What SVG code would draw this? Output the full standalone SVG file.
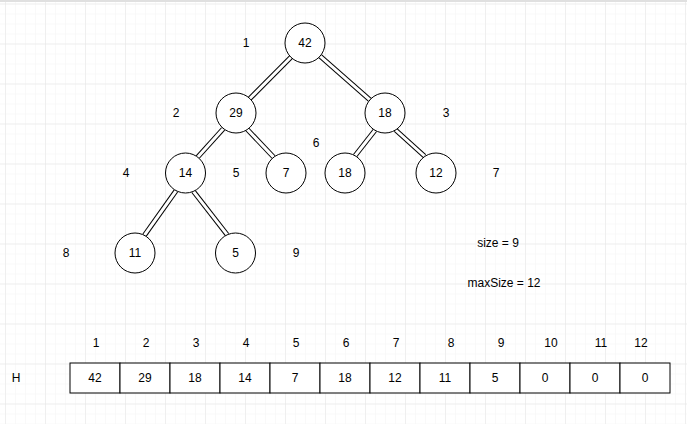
<svg xmlns="http://www.w3.org/2000/svg" width="687" height="424" viewBox="0 0 687 424">
<defs>
<pattern id="minor" width="10" height="10" patternUnits="userSpaceOnUse" x="5" y="3.5">
<path d="M0 0H10M0 0V10" fill="none" stroke="#f3f3f3" stroke-width="1"/>
</pattern>
<pattern id="major" width="40" height="40" patternUnits="userSpaceOnUse" x="5" y="3.5">
<path d="M0 0H40M0 0V40" fill="none" stroke="#e5e5e5" stroke-width="1"/>
</pattern>
</defs>
<style>
text{font-family:"Liberation Sans",Arial,sans-serif;font-size:12px;fill:#000;text-anchor:middle;dominant-baseline:central}
.node circle{fill:#fff;stroke:#000;stroke-width:1}
.outer{stroke:#000;stroke-width:5;fill:none}
.inner{stroke:#fff;stroke-width:3;fill:none}
.cell{fill:#fff;stroke:#000;stroke-width:1}
</style>
<rect width="687" height="424" fill="#fff"/>
<rect width="687" height="424" fill="url(#minor)"/>
<rect width="687" height="424" fill="url(#major)"/>
<line x1="0" y1="1" x2="687" y2="1" stroke="#e0e0e0" stroke-width="2"/>
<g id="connectors">
<g class="outer">
<line x1="290.9" y1="57.2" x2="249.6" y2="98.8"/>
<line x1="320.1" y1="56.2" x2="369.9" y2="99.8"/>
<line x1="223.2" y1="128.8" x2="197.6" y2="157.2"/>
<line x1="246.8" y1="128.9" x2="273.6" y2="157.1"/>
<line x1="375" y1="130.3" x2="355" y2="155.7"/>
<line x1="395.6" y1="130" x2="424.4" y2="156"/>
<line x1="176" y1="190.8" x2="144.5" y2="235.2"/>
<line x1="193.4" y1="191.3" x2="227.1" y2="234.7"/>
</g>
<g class="inner">
<line x1="290.9" y1="57.2" x2="249.6" y2="98.8"/>
<line x1="320.1" y1="56.2" x2="369.9" y2="99.8"/>
<line x1="223.2" y1="128.8" x2="197.6" y2="157.2"/>
<line x1="246.8" y1="128.9" x2="273.6" y2="157.1"/>
<line x1="375" y1="130.3" x2="355" y2="155.7"/>
<line x1="395.6" y1="130" x2="424.4" y2="156"/>
<line x1="176" y1="190.8" x2="144.5" y2="235.2"/>
<line x1="193.4" y1="191.3" x2="227.1" y2="234.7"/>
</g>
</g>
<g id="n1" class="node"><circle cx="305" cy="43" r="20"/><text x="305" y="43">42</text></g>
<g id="n2" class="node"><circle cx="236" cy="113" r="20"/><text x="236" y="113">29</text></g>
<g id="n3" class="node"><circle cx="385" cy="113" r="20"/><text x="385" y="113">18</text></g>
<g id="n4" class="node"><circle cx="185.5" cy="173" r="20"/><text x="185.5" y="173">14</text></g>
<g id="n5" class="node"><circle cx="286" cy="173" r="20"/><text x="286" y="173">7</text></g>
<g id="n6" class="node"><circle cx="345" cy="173" r="20"/><text x="345" y="173">18</text></g>
<g id="n7" class="node"><circle cx="436" cy="173" r="20"/><text x="436" y="173">12</text></g>
<g id="n8" class="node"><circle cx="135" cy="253" r="20"/><text x="135" y="253">11</text></g>
<g id="n9" class="node"><circle cx="235.5" cy="253" r="20"/><text x="235.5" y="253">5</text></g>
<g id="indices">
<text x="246" y="43">1</text>
<text x="176" y="113">2</text>
<text x="446" y="113">3</text>
<text x="126" y="173">4</text>
<text x="236" y="173">5</text>
<text x="316" y="143">6</text>
<text x="496" y="173">7</text>
<text x="66" y="253">8</text>
<text x="296" y="253">9</text>
</g>
<g id="info">
<text x="498" y="243">size = 9</text>
<text x="504" y="283">maxSize = 12</text>
</g>
<g id="array">
<text x="16" y="378">H</text>
<rect class="cell" x="70" y="363" width="50" height="30"/>
<rect class="cell" x="120" y="363" width="50" height="30"/>
<rect class="cell" x="170" y="363" width="50" height="30"/>
<rect class="cell" x="220" y="363" width="50" height="30"/>
<rect class="cell" x="270" y="363" width="50" height="30"/>
<rect class="cell" x="320" y="363" width="50" height="30"/>
<rect class="cell" x="370" y="363" width="50" height="30"/>
<rect class="cell" x="420" y="363" width="50" height="30"/>
<rect class="cell" x="470" y="363" width="50" height="30"/>
<rect class="cell" x="520" y="363" width="50" height="30"/>
<rect class="cell" x="570" y="363" width="50" height="30"/>
<rect class="cell" x="620" y="363" width="50" height="30"/>
<text x="95" y="378">42</text>
<text x="145" y="378">29</text>
<text x="195" y="378">18</text>
<text x="245" y="378">14</text>
<text x="295" y="378">7</text>
<text x="345" y="378">18</text>
<text x="395" y="378">12</text>
<text x="445" y="378">11</text>
<text x="495" y="378">5</text>
<text x="545" y="378">0</text>
<text x="595" y="378">0</text>
<text x="645" y="378">0</text>
<text x="96" y="343">1</text>
<text x="146" y="343">2</text>
<text x="196" y="343">3</text>
<text x="246" y="343">4</text>
<text x="296" y="343">5</text>
<text x="346" y="343">6</text>
<text x="396" y="343">7</text>
<text x="451" y="343">8</text>
<text x="501" y="343">9</text>
<text x="551" y="343">10</text>
<text x="601" y="343">11</text>
<text x="641" y="343">12</text>
</g>
</svg>
